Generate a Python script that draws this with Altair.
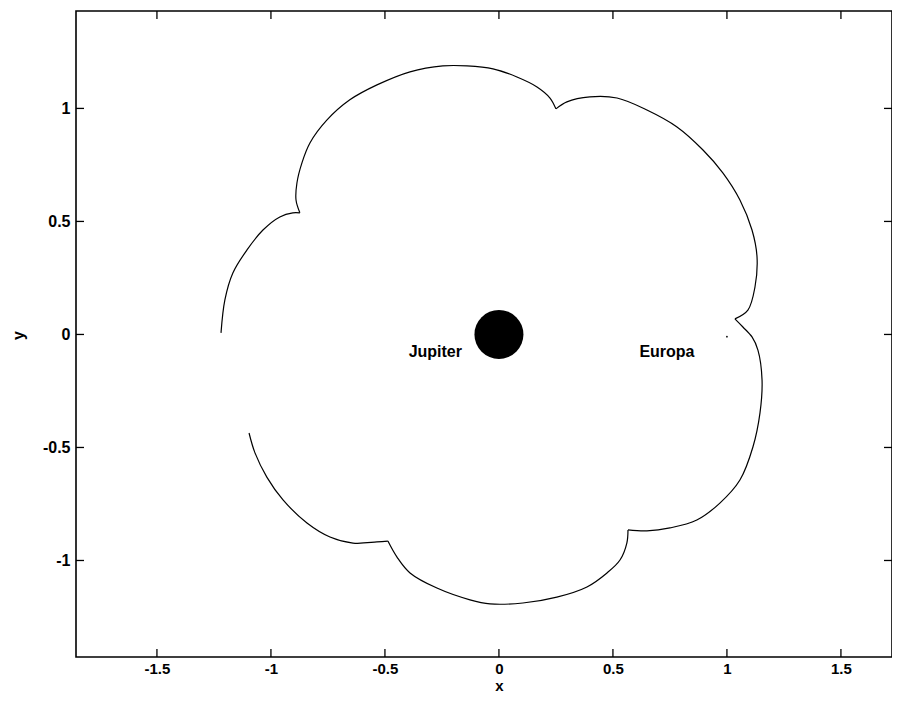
import altair as alt
import pandas as pd

# ---- data ----
seg1_x = [-1.219, -1.202, -1.167, -1.105, -1.035, -0.961, -0.904, -0.873]
seg1_y = [0.007, 0.153, 0.272, 0.374, 0.462, 0.520, 0.538, 0.538]

seg2_x = [-0.873, -0.890, -0.886, -0.864, -0.829, -0.754, -0.654, -0.535, -0.390, -0.246, -0.140, -0.026, 0.079, 0.167, 0.224, 0.250]
seg2_y = [0.538, 0.595, 0.670, 0.759, 0.847, 0.949, 1.038, 1.104, 1.162, 1.188, 1.188, 1.175, 1.139, 1.095, 1.046, 0.998]

seg3_x = [0.250, 0.298, 0.399, 0.518, 0.649, 0.781, 0.895, 0.982, 1.057, 1.110, 1.132, 1.123, 1.092, 1.035]
seg3_y = [0.998, 1.029, 1.051, 1.046, 0.993, 0.918, 0.816, 0.715, 0.595, 0.462, 0.343, 0.210, 0.108, 0.069]

seg4_x = [1.035, 1.070, 1.110, 1.136, 1.154, 1.145, 1.114, 1.057, 0.969, 0.868, 0.750, 0.649, 0.566]
seg4_y = [0.069, 0.033, -0.011, -0.069, -0.201, -0.347, -0.498, -0.644, -0.746, -0.821, -0.856, -0.869, -0.865]

seg5_x = [0.566, 0.561, 0.531, 0.474, 0.386, 0.254, 0.105, -0.039, -0.127, -0.272, -0.390, -0.447, -0.487]
seg5_y = [-0.865, -0.923, -0.998, -1.055, -1.117, -1.162, -1.188, -1.192, -1.174, -1.122, -1.055, -0.985, -0.914]

seg6_x = [-0.487, -0.535, -0.640, -0.741, -0.842, -0.947, -1.018, -1.070, -1.096]
seg6_y = [-0.914, -0.918, -0.923, -0.896, -0.834, -0.732, -0.631, -0.524, -0.436]

segments = [(seg1_x, seg1_y), (seg2_x, seg2_y), (seg3_x, seg3_y),
            (seg4_x, seg4_y), (seg5_x, seg5_y), (seg6_x, seg6_y)]

x_ticks = [-1.5, -1, -0.5, 0, 0.5, 1, 1.5]
y_ticks = [-1, -0.5, 0, 0.5, 1]

body_x = [0.0, 1.0]
body_y = [0.0, -0.01]

label_text = ["Jupiter", "Europa"]
label_x = [-0.162, 0.737]
label_y = [-0.077, -0.077]

x_domain = [-1.855, 1.724]
y_domain = [-1.427, 1.431]

# ---- build tables ----
rows = []
for s, (xs_, ys_) in enumerate(segments):
    for i, (a, b) in enumerate(zip(xs_, ys_)):
        rows.append({"seg": s, "i": i, "x": a, "y": b})
curve_df = pd.DataFrame(rows)

W, H = 816, 646
FONT = "Liberation Sans"

xs = alt.Scale(domain=x_domain, nice=False, zero=False)
ys = alt.Scale(domain=y_domain, nice=False, zero=False)
xaxis = alt.Axis(values=x_ticks, title="x", domain=False, ticks=False, tickSize=0,
                 grid=False, labelPadding=4, labelFontSize=15, labelExpr="'' + datum.value",
                 titleX=423, titleY=28, titleFontSize=15, titleBaseline="middle")
yaxis = alt.Axis(values=y_ticks, title="y", domain=False, ticks=False, tickSize=0,
                 grid=False, labelPadding=6, labelExpr="'' + datum.value",
                 titleX=-58, titleY=324, titleBaseline="middle", titleAngle=270)

X = alt.X("x:Q", scale=xs, axis=xaxis)
Y = alt.Y("y:Q", scale=ys, axis=yaxis)

curve = alt.Chart(curve_df).mark_line(
    color="black", strokeWidth=1.2, interpolate="catmull-rom"
).encode(x=X, y=Y, detail="seg:N", order="i:Q")

jup = alt.Chart(pd.DataFrame({"x": body_x[:1], "y": body_y[:1]})).mark_point(
    shape="circle", filled=True, color="black", opacity=1, size=2401
).encode(x=X, y=Y)

eur = alt.Chart(pd.DataFrame({"x": body_x[1:], "y": body_y[1:]})).mark_point(
    shape="circle", filled=True, color="black", opacity=1, size=3
).encode(x=X, y=Y)

lab_df = pd.DataFrame({"x": label_x, "y": label_y, "t": label_text})
lab_j = alt.Chart(lab_df.iloc[:1]).mark_text(
    font=FONT, fontWeight="bold", fontSize=16, align="right", baseline="middle", color="black"
).encode(x=X, y=Y, text="t:N")
lab_e = alt.Chart(lab_df.iloc[1:]).mark_text(
    font=FONT, fontWeight="bold", fontSize=16, align="center", baseline="middle", color="black"
).encode(x=X, y=Y, text="t:N")

xt_df = pd.DataFrame({"x": x_ticks})
yt_df = pd.DataFrame({"y": y_ticks})
tick_b = alt.Chart(xt_df).mark_rule(color="black", strokeWidth=1.3).encode(
    x=X, y=alt.value(H), y2=alt.value(H - 8))
tick_t = alt.Chart(xt_df).mark_rule(color="black", strokeWidth=1.3).encode(
    x=X, y=alt.value(0), y2=alt.value(8))
tick_l = alt.Chart(yt_df).mark_rule(color="black", strokeWidth=1.3).encode(
    y=Y, x=alt.value(0), x2=alt.value(8))
tick_r = alt.Chart(yt_df).mark_rule(color="black", strokeWidth=1.3).encode(
    y=Y, x=alt.value(W), x2=alt.value(W - 8))

chart = alt.layer(curve, jup, eur, lab_j, lab_e, tick_b, tick_t, tick_l, tick_r).properties(
    width=W, height=H,
    autosize=alt.AutoSizeParams(type="none"),
    padding={"left": 68, "top": 3, "right": 0, "bottom": 35},
    background="white",
).configure_view(
    stroke="black", strokeWidth=1.6
).configure_axis(
    labelFont=FONT, labelFontWeight="bold", labelFontSize=16, labelColor="black",
    titleFont=FONT, titleFontWeight="bold", titleFontSize=16, titleColor="black",
)

chart.save("out.html", embed_options={"renderer": "svg", "actions": False})
